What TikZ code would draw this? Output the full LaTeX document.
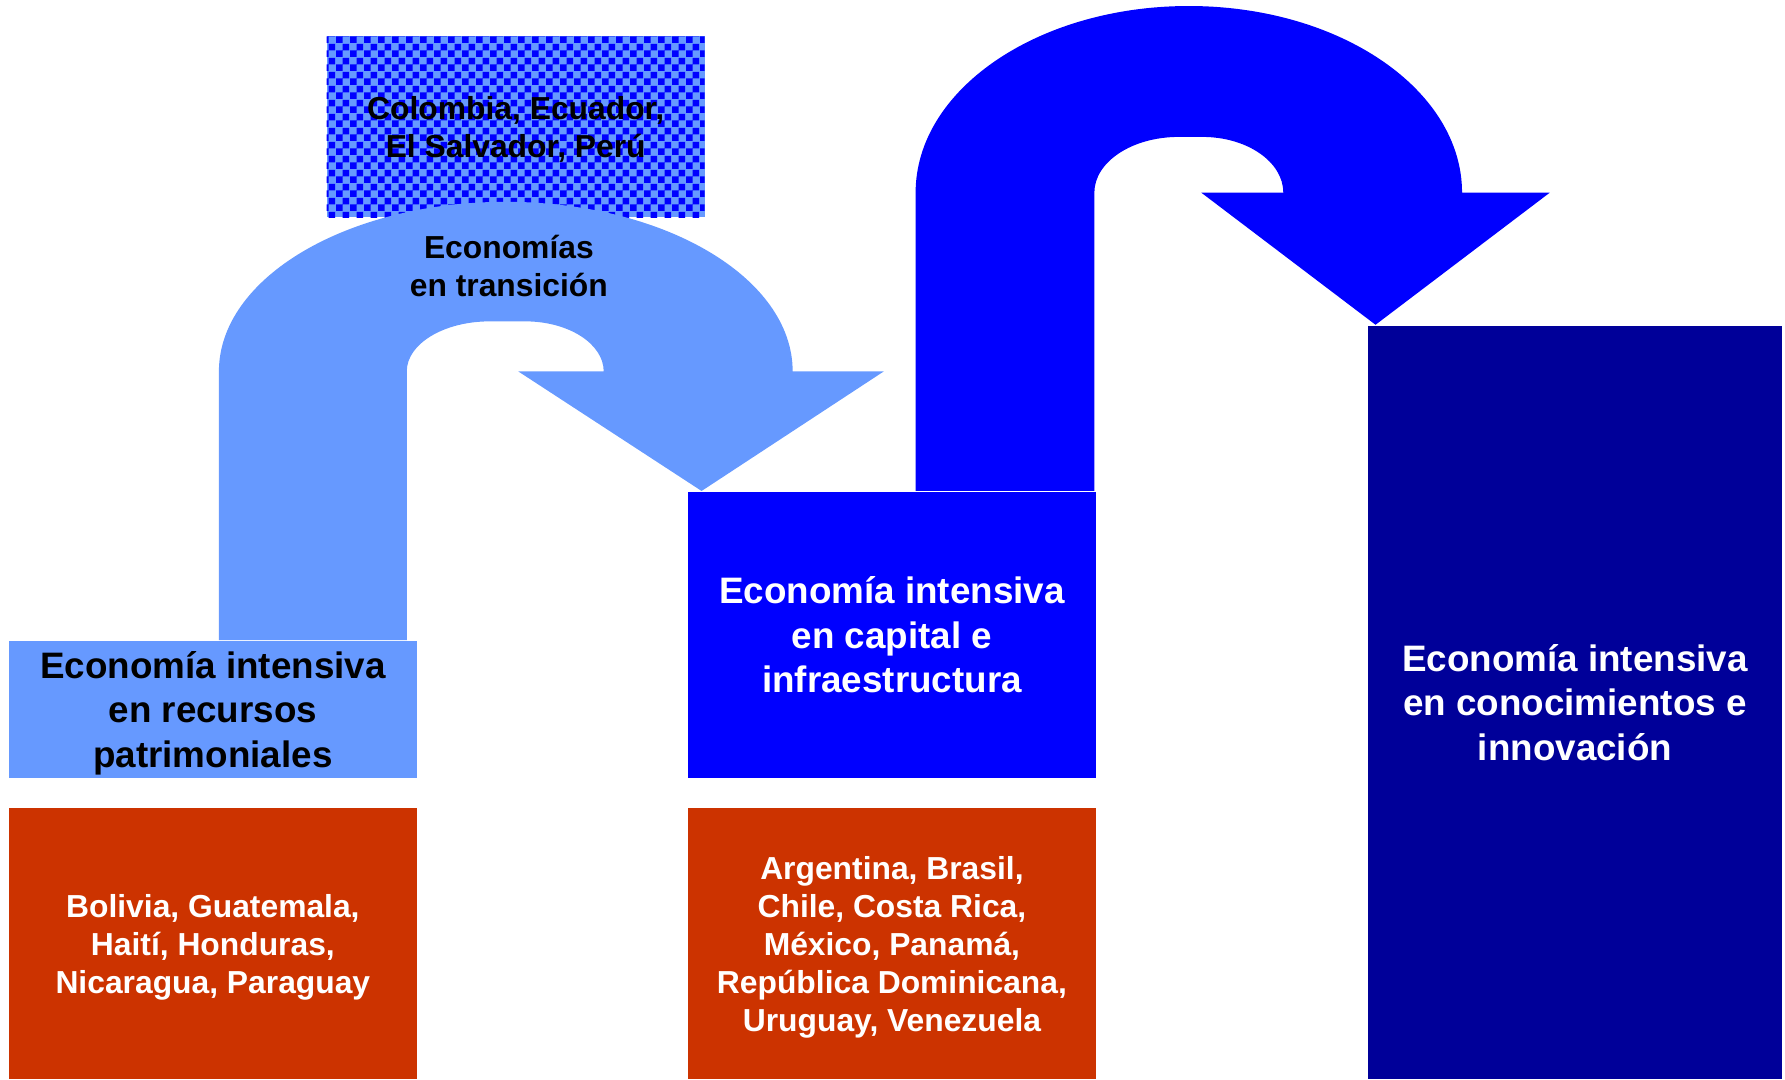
\documentclass[tikz,border=0pt]{standalone}
\usepackage{fontspec}
\setmainfont{Liberation Sans}
\usetikzlibrary{patterns}

\definecolor{lightblue}{HTML}{6699FF}
\definecolor{midblue}{HTML}{0000FF}
\definecolor{navy}{HTML}{000099}
\definecolor{rust}{HTML}{CC3300}

% small checker for the transition box
\pgfdeclarepatternformonly{finechecker}{\pgfpointorigin}{\pgfqpoint{3.5pt}{3.5pt}}{\pgfqpoint{3.5pt}{3.5pt}}{%
  \pgfpathrectangle{\pgfpointorigin}{\pgfqpoint{1.75pt}{1.75pt}}%
  \pgfpathrectangle{\pgfqpoint{1.75pt}{1.75pt}}{\pgfqpoint{1.75pt}{1.75pt}}%
  \pgfusepath{fill}}

\begin{document}
\begin{tikzpicture}[
    stage/.style={rectangle, inner sep=0pt, align=center, text depth=0pt, font=\fontsize{9.2}{11.1}\selectfont\bfseries},
    countries/.style={rectangle, fill=rust, inner sep=0pt, align=center, text depth=0pt, text=white, font=\fontsize{7.95}{9.5}\selectfont\bfseries},
    note/.style={inner sep=0pt, align=center, text depth=0pt, font=\fontsize{7.95}{9.45}\selectfont\bfseries}
]
    \useasboundingbox (0,0) rectangle (15.68,-9.48);

    % Transition countries
    \node[note, minimum width=3.32cm, minimum height=1.59cm, fill=lightblue,
          postaction={pattern=finechecker, pattern color=midblue}] (transicion) at (4.53,-1.115)
        {Colombia, Ecuador,\\El Salvador, Perú};

    % Stages
    \node[stage, fill=lightblue, minimum width=3.58cm, minimum height=1.20cm] (recursos) at (1.87,-6.23)
        {Economía intensiva\\en recursos\\patrimoniales};
    \node[stage, fill=midblue, text=white, minimum width=3.59cm, minimum height=2.51cm] (capital) at (7.835,-5.575)
        {Economía intensiva\\en capital e\\infraestructura};
    \node[stage, fill=navy, text=white, minimum width=3.63cm, minimum height=6.62cm] (conocimiento) at (13.835,-6.17)
        {Economía intensiva\\en conocimientos e\\innovación};

    % Countries
    \node[countries, minimum width=3.58cm, minimum height=2.38cm] (paisesA) at (1.87,-8.29)
        {Bolivia, Guatemala,\\Haití, Honduras,\\Nicaragua, Paraguay};
    \node[countries, minimum width=3.59cm, minimum height=2.38cm] (paisesB) at (7.835,-8.29)
        {Argentina, Brasil,\\Chile, Costa Rica,\\México, Panamá,\\República Dominicana,\\Uruguay, Venezuela};

    % Arrows
    \fill[lightblue] ([xshift=1.85cm]recursos.north west) -- ++(0,2.36)
        arc[start angle=180, end angle=0, x radius=2.52, y radius=1.49] -- ++(0.80,0)
        -- ([xshift=0.13cm]capital.north west) -- ++(-1.61,1.05) -- ++(0.75,0)
        arc[start angle=0, end angle=90, x radius=0.69, y radius=0.44] -- ++(-0.31,0)
        arc[start angle=90, end angle=180, x radius=0.73, y radius=0.44]
        -- ([xshift=3.50cm]recursos.north west) -- cycle;
    \fill[midblue] ([xshift=2.01cm]capital.north west) -- ++(0,2.62)
        arc[start angle=180, end angle=0, x radius=2.40, y radius=1.64] -- ++(0.77,0)
        -- ([xshift=0.07cm]conocimiento.north west) -- ++(-1.53,1.16) -- ++(0.72,0)
        arc[start angle=0, end angle=90, x radius=0.71, y radius=0.49] -- ++(-0.21,0)
        arc[start angle=90, end angle=180, x radius=0.74, y radius=0.49]
        -- ([xshift=3.58cm]capital.north west) -- cycle;

    \node[note] (economias) at (4.47,-2.335) {Economías\\en transición};
\end{tikzpicture}
\end{document}
